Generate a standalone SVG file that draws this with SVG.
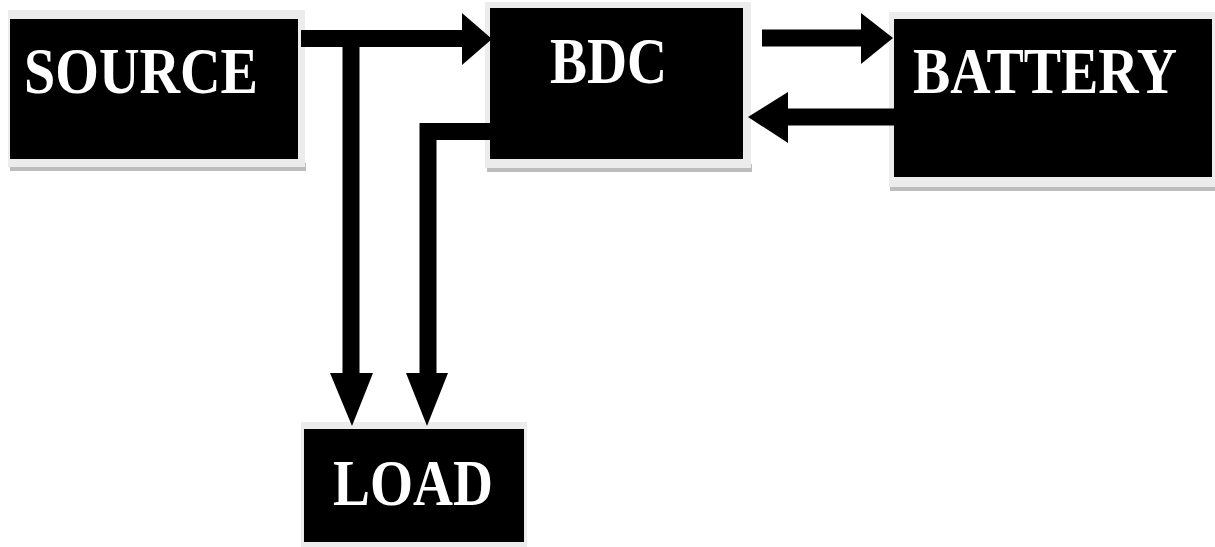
<svg xmlns="http://www.w3.org/2000/svg" width="1215" height="547" viewBox="0 0 1215 547">
<style>
.frame{fill:#ececec}
.shadow{fill:#bdbdbd}
.box{fill:#000}
.lbl{fill:#fff;font-family:'Liberation Serif','Times New Roman',serif;font-size:66px;font-weight:bold}
.wire{fill:none;stroke:#000;stroke-width:17}
.head{fill:#000}
</style>
<rect width="1215" height="547" fill="#fff"/>
<g id="source">
<rect class="shadow" x="10" y="163" width="296" height="8"/>
<rect class="frame" x="8" y="10" width="297" height="157"/>
<rect class="box" x="10" y="19" width="288" height="140"/>
<text class="lbl" x="24" y="93" textLength="234" lengthAdjust="spacingAndGlyphs">SOURCE</text>
</g>
<g id="bdc">
<rect class="shadow" x="487" y="164" width="265" height="8"/>
<rect class="frame" x="485" y="2" width="266" height="166"/>
<rect class="box" x="490" y="8" width="253" height="151"/>
<text class="lbl" x="550" y="83" textLength="117" lengthAdjust="spacingAndGlyphs">BDC</text>
</g>
<g id="battery">
<rect class="shadow" x="890" y="183" width="325" height="8"/>
<rect class="frame" x="889" y="12" width="326" height="175"/>
<rect class="box" x="894" y="19" width="318" height="158"/>
<text class="lbl" x="913" y="93" textLength="264" lengthAdjust="spacingAndGlyphs">BATTERY</text>
</g>
<g id="load">
<rect class="frame" x="301" y="422" width="226" height="125"/>
<rect class="box" x="304" y="429" width="220" height="113"/>
<text class="lbl" x="333" y="505" textLength="160" lengthAdjust="spacingAndGlyphs">LOAD</text>
</g>
<g id="connectors">
<path class="wire" d="M301 38.5H463"/>
<polygon class="head" points="462,13 492,39 462,65"/>
<path class="wire" d="M351 47V374"/>
<polygon class="head" points="330,373 373,373 352,426"/>
<path class="wire" d="M490 131.5H428V374"/>
<polygon class="head" points="406,373 448,373 427,426"/>
<path class="wire" d="M762 38H862"/>
<polygon class="head" points="861,13 893,38 861,64"/>
<path class="wire" d="M895 117H787"/>
<polygon class="head" points="788,92 748,117 788,143"/>
</g>
</svg>
